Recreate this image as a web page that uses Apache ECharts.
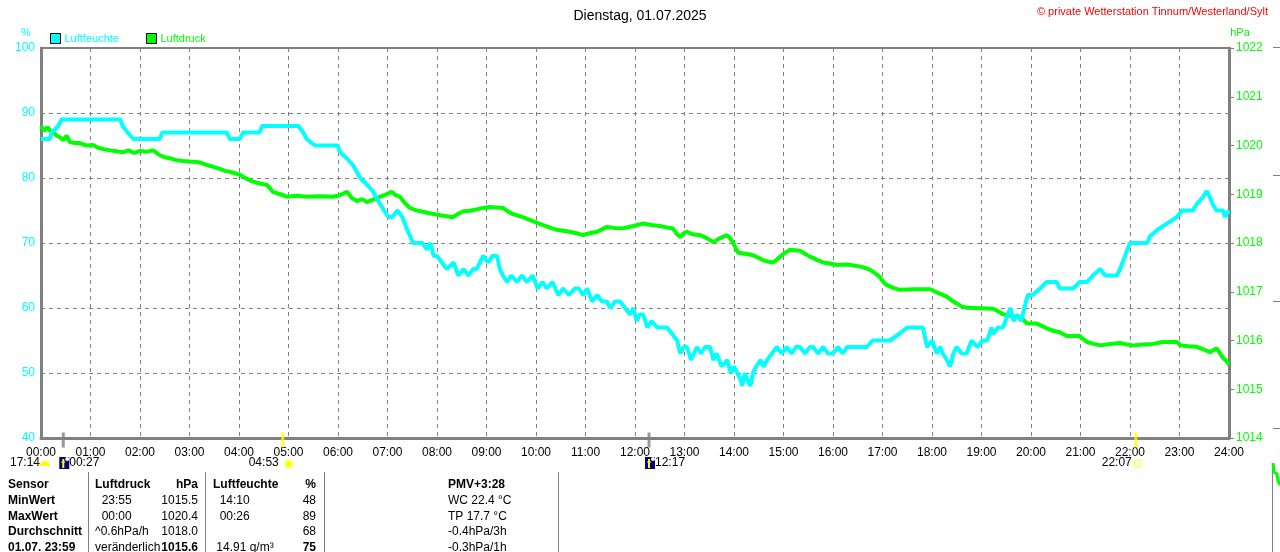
<!DOCTYPE html>
<html>
  <head>
    <meta charset="utf-8" />
    <title>Wetterstation Tinnum</title>
    <script src="https://cdn.jsdelivr.net/npm/echarts@6/dist/echarts.min.js"></script>
    <style>
      html, body { margin: 0; padding: 0; background: #fff; }
      #chart { width: 1280px; height: 552px; }
    </style>
  </head>
  <body>
    <div id="chart"></div>

    <script type="text/javascript">
      // Messwerte [Minute des Tages, Wert]
      var humidity = [
        [0,86],[11,86],[13,87],[21,88],[25,89],[96,89],[99,88],[105,87],[112,86],[144,86],[147,87],[225,87],
        [229,86],[241,86],[245,87],[265,87],[268,88],[312,88],[318,87],[322,86],[332,85],[360,85],[362,84],
        [371,83],[378,82],[387,80],[395,79],[402,78],[411,76],[421,74],[426,74],[432,75],[438,74],[444,72],
        [451,70],[462,70],[468,69],[472,70],[476,68],[480,68],[486,67],[492,66],[500,67],[506,65],[512,66],
        [518,65],[524,66],[528,66],[532,67],[536,68],[542,67],[547,68],[553,68],[556,66],[560,65],[565,64],
        [570,65],[577,64],[583,65],[589,64],[596,65],[602,63],[608,64],[613,63],[620,64],[627,62],[633,63],
        [640,62],[647,63],[652,63],[657,62],[662,63],[668,61],[674,62],[680,61],[686,61],[690,60],[696,61],
        [702,61],[708,60],[714,59],[718,60],[722,58],[726,59],[730,59],[735,57],[740,58],[747,57],[752,57],
        [759,57],[765,56],[771,55],[775,53],[779,54],[783,54],[788,52],[795,54],[800,53],[805,54],[811,54],
        [815,52],[819,53],[825,51],[832,52],[836,50],[840,51],[844,50],[848,49],[850,48],[853,50],[856,49],
        [860,48],[863,50],[867,51],[872,52],[876,51],[880,52],[886,53],[892,54],[898,53],[904,54],[910,53],
        [915,54],[920,54],[926,53],[932,54],[936,54],[942,53],[948,54],[954,53],[960,53],[966,54],[972,53],
        [977,54],[985,54],[992,54],[1001,54],[1008,55],[1017,55],[1029,55],[1040,56],[1050,57],[1069,57],
        [1074,54],[1080,55],[1086,53],[1090,54],[1093,53],[1098,52],[1102,51],[1106,53],[1110,54],[1116,53],
        [1122,53],[1128,55],[1135,54],[1141,55],[1147,55],[1152,57],[1154,56],[1160,57],[1166,57],[1172,59],
        [1175,60],[1179,58],[1183,59],[1188,58],[1190,58],[1196,62],[1202,62],[1211,63],[1219,64],[1231,64],
        [1235,63],[1245,63],[1251,63],[1259,64],[1268,64],[1275,65],[1284,66],[1290,65],[1296,65],[1304,65],
        [1308,66],[1314,68],[1320,70],[1341,70],[1344,71],[1353,72],[1365,73],[1377,74],[1383,75],[1396,75],
        [1401,76],[1408,77],[1413,78],[1417,77],[1420,76],[1425,75],[1433,75],[1435,74],[1440,75]
      ];

      var pressure = [
        [0,1020.4],[4,1020.3],[8,1020.38],[11,1020.3],[15,1020.28],[19,1020.2],[23,1020.17],[27,1020.11],
        [31,1020.2],[35,1020.07],[41,1020.05],[47,1020.05],[55,1020.0],[63,1020.01],[70,1019.95],[77,1019.92],
        [84,1019.9],[92,1019.88],[99,1019.86],[106,1019.9],[113,1019.85],[120,1019.89],[128,1019.87],
        [136,1019.9],[144,1019.8],[150,1019.76],[156,1019.74],[164,1019.7],[172,1019.68],[180,1019.67],
        [189,1019.66],[195,1019.64],[201,1019.6],[209,1019.56],[217,1019.52],[223,1019.48],[229,1019.46],
        [235,1019.43],[241,1019.4],[249,1019.32],[257,1019.26],[265,1019.22],[274,1019.19],[281,1019.05],
        [290,1019.0],[298,1018.95],[310,1018.97],[322,1018.95],[338,1018.96],[354,1018.95],[362,1018.98],
        [371,1019.05],[377,1018.92],[383,1018.86],[389,1018.9],[395,1018.84],[401,1018.88],[407,1018.92],
        [416,1018.98],[425,1019.05],[430,1018.98],[435,1018.95],[441,1018.82],[447,1018.72],[455,1018.67],
        [463,1018.64],[474,1018.6],[484,1018.57],[492,1018.55],[499,1018.53],[506,1018.6],[512,1018.65],
        [520,1018.66],[528,1018.69],[536,1018.72],[544,1018.74],[552,1018.73],[560,1018.72],[566,1018.65],
        [571,1018.6],[578,1018.56],[584,1018.53],[590,1018.49],[596,1018.45],[602,1018.41],[608,1018.37],
        [616,1018.32],[625,1018.27],[633,1018.25],[641,1018.23],[649,1018.2],[657,1018.16],[665,1018.2],
        [674,1018.23],[680,1018.28],[686,1018.33],[695,1018.31],[705,1018.3],[718,1018.35],[730,1018.4],
        [740,1018.37],[750,1018.35],[758,1018.32],[766,1018.3],[770,1018.2],[775,1018.12],[779,1018.2],
        [783,1018.23],[790,1018.18],[799,1018.16],[807,1018.1],[815,1018.02],[823,1018.1],[832,1018.16],
        [836,1018.08],[839,1018.0],[842,1017.9],[845,1017.8],[854,1017.78],[863,1017.75],[869,1017.7],
        [875,1017.65],[881,1017.62],[887,1017.6],[892,1017.66],[896,1017.72],[902,1017.8],[908,1017.86],
        [914,1017.85],[920,1017.84],[926,1017.78],[932,1017.72],[940,1017.66],[948,1017.6],[956,1017.58],
        [965,1017.55],[977,1017.56],[989,1017.53],[997,1017.5],[1005,1017.45],[1011,1017.38],[1017,1017.3],
        [1021,1017.2],[1025,1017.14],[1033,1017.08],[1041,1017.04],[1060,1017.05],[1078,1017.05],
        [1088,1016.97],[1098,1016.9],[1104,1016.82],[1110,1016.76],[1116,1016.7],[1122,1016.67],
        [1138,1016.66],[1154,1016.65],[1160,1016.6],[1166,1016.54],[1176,1016.5],[1187,1016.48],
        [1191,1016.42],[1195,1016.35],[1207,1016.35],[1213,1016.3],[1219,1016.25],[1227,1016.2],
        [1235,1016.17],[1240,1016.12],[1244,1016.09],[1259,1016.09],[1264,1016.02],[1268,1015.97],
        [1276,1015.93],[1284,1015.9],[1296,1015.93],[1308,1015.95],[1316,1015.92],[1324,1015.9],
        [1336,1015.92],[1348,1015.93],[1360,1015.97],[1377,1015.97],[1381,1015.9],[1391,1015.88],
        [1401,1015.87],[1409,1015.82],[1417,1015.76],[1421,1015.8],[1425,1015.84],[1429,1015.74],
        [1433,1015.64],[1437,1015.58],[1440,1015.5]
      ];

      // Mond-/Sonnenereignisse (Minute, Text, Farbe der Marke)
      var eventTimes = [27, 293, 737, 1327];
      var eventLabels = ["00:27", "04:53", "12:17", "22:07"];
      var eventColors = ["#808080", "#ffff00", "#808080", "#ffff00"];

      // Tabelle unten
      var tableHead = ["Sensor", "Luftdruck", "hPa", "Luftfeuchte", "%", "PMV+3:28"];
      var rowLabels = ["MinWert", "MaxWert", "Durchschnitt", "01.07. 23:59"];
      var pressTimes = ["  23:55", "  00:00", "^0.6hPa/h", "veränderlich"];
      var pressValues = ["1015.5", "1020.4", "1018.0", "1015.6"];
      var humTimes = ["  14:10", "  00:26", "", " 14.91 g/m³"];
      var humValues = ["48", "89", "68", "75"];
      var extraValues = ["WC 22.4 °C", "TP 17.7 °C", "-0.4hPa/3h", "-0.3hPa/1h"];

      var FONT = "'Liberation Sans', Arial, sans-serif";
      var GRAY = "#808080";
      var CYAN = "#00ffff";
      var GREEN = "#00ff00";

      var chart = echarts.init(document.getElementById("chart"));

      function pad(n) {
        return (n < 10 ? "0" : "") + n;
      }

      function txt(x, y, s, opt) {
        opt = opt || {};
        return {
          type: "text",
          x: x,
          y: y,
          silent: true,
          style: {
            text: s,
            fill: opt.color || "#000",
            font: (opt.bold ? "bold " : "") + (opt.size || 12) + "px " + FONT,
            textAlign: opt.align || "left",
            textVerticalAlign: "middle",
          },
        };
      }

      function line(x1, y1, x2, y2, color, w) {
        return {
          type: "line",
          silent: true,
          shape: { x1: x1, y1: y1, x2: x2, y2: y2 },
          style: { stroke: color || GRAY, lineWidth: w || 1 },
        };
      }

      var option = {
        animation: false,
        backgroundColor: "#fff",
        title: {
          text: "Dienstag, 01.07.2025",
          left: "center",
          top: 4,
          textStyle: { fontFamily: FONT, fontSize: 14, fontWeight: "normal", color: "#000" },
        },
        legend: {
          left: 50,
          top: 33,
          padding: 0,
          itemWidth: 10,
          itemHeight: 10,
          itemGap: 27,
          icon: "rect",
          textStyle: { fontFamily: FONT, fontSize: 11, padding: [0, 0, 0, -1] },
          data: [
            { name: "Luftfeuchte", itemStyle: { color: CYAN, borderColor: "#000", borderWidth: 1 }, textStyle: { color: CYAN } },
            { name: "Luftdruck", itemStyle: { color: GREEN, borderColor: "#000", borderWidth: 1 }, textStyle: { color: GREEN } },
          ],
        },
        grid: {
          left: 41,
          right: 51,
          top: 48,
          bottom: 114,
          show: true,
          borderColor: GRAY,
          borderWidth: 2,
        },
        xAxis: {
          type: "value",
          min: 0,
          max: 1440,
          interval: 60,
          axisLine: { lineStyle: { color: GRAY, width: 3 } },
          axisTick: { show: false },
          axisLabel: {
            color: "#000",
            fontFamily: FONT,
            fontSize: 12,
            margin: 9,
            formatter: function (v) {
              return pad(v / 60) + ":00";
            },
          },
          splitLine: { lineStyle: { color: GRAY, type: [4, 4], width: 1 } },
        },
        yAxis: [
          {
            type: "value",
            min: 40,
            max: 100,
            interval: 10,
            position: "left",
            axisLine: { show: true, lineStyle: { color: GRAY, width: 3 } },
            axisTick: { show: false },
            axisLabel: { color: CYAN, fontFamily: FONT, fontSize: 12, margin: 6 },
            splitLine: { lineStyle: { color: GRAY, type: [4, 4], width: 1 } },
          },
          {
            type: "value",
            min: 1014,
            max: 1022,
            interval: 1,
            position: "right",
            axisLine: { show: true, lineStyle: { color: GRAY, width: 3 } },
            axisTick: { show: true, length: 5, lineStyle: { color: GRAY, width: 1 } },
            axisLabel: {
              color: GREEN,
              fontFamily: FONT,
              fontSize: 12,
              margin: 7,
              formatter: function (v) {
                return String(v);
              },
            },
            splitLine: { show: false },
          },
        ],
        series: [
          {
            name: "Luftdruck",
            type: "line",
            yAxisIndex: 1,
            data: pressure,
            symbol: "none",
            color: GREEN,
            lineStyle: { color: GREEN, width: 4 },
            z: 3,
          },
          {
            name: "Luftfeuchte",
            type: "line",
            yAxisIndex: 0,
            data: humidity,
            symbol: "none",
            color: CYAN,
            lineStyle: { color: CYAN, width: 4 },
            z: 4,
          },
          {
            name: "Ereignisse",
            type: "scatter",
            yAxisIndex: 0,
            symbol: "rect",
            symbolSize: [3, 15],
            symbolOffset: [0, 2],
            clip: false,
            silent: true,
            z: 6,
            data: eventTimes.map(function (t, i) {
              return { value: [t, 40], itemStyle: { color: eventColors[i] } };
            }),
          },
        ],
      };

      chart.setOption(option);

      // Texte und Tabelle
      var g = [];
      g.push(txt(1268, 12, "© private Wetterstation Tinnum/Westerland/Sylt", { color: "#ff0000", size: 11, align: "right" }));
      g.push(txt(26, 33, "%", { color: CYAN, size: 11, align: "center" }));
      g.push(txt(1240, 33, "hPa", { color: GREEN, size: 11, align: "center" }));

      // Ereignisse unter der Zeitachse
      var ey = 463;
      g.push(txt(10, ey, "17:14", {}));
      g.push({ type: "sector", silent: true, shape: { cx: 45, cy: ey + 3, r: 5, startAngle: Math.PI, endAngle: 2 * Math.PI }, style: { fill: "#ffff00" } });
      eventTimes.forEach(function (t, i) {
        var px = chart.convertToPixel({ xAxisIndex: 0 }, t);
        if (i === 0 || i === 2) {
          // Mond-Symbol
          g.push({ type: "rect", silent: true, shape: { x: px - 4, y: ey - 6, width: 10, height: 12 }, style: { fill: "#000080" } });
          g.push(line(px, ey - 4, px, ey + 5, "#ffff00", 2));
          g.push(line(px - 2, ey - 1, px + 2, ey - 1, "#ffff00", 1));
          g.push({ type: "circle", silent: true, shape: { cx: px + 4, cy: ey - 4, r: 2 }, style: { fill: "#fff" } });
          g.push(txt(px + 6, ey, eventLabels[i], {}));
        } else if (i === 1) {
          g.push({ type: "circle", silent: true, shape: { cx: px + 6, cy: ey + 1, r: 4 }, style: { fill: "#ffff00", stroke: "#ffff99", lineWidth: 2 } });
          g.push(txt(px - 4, ey, eventLabels[i], { align: "right" }));
        } else {
          g.push({ type: "rect", silent: true, shape: { x: px - 1.5, y: ey - 3, width: 6, height: 7 }, style: { fill: "none", stroke: "#ffff00", lineWidth: 1 } });
          g.push(txt(px - 4, ey, eventLabels[i], { align: "right" }));
        }
      });

      // Tabelle
      var rowY = [485, 501, 517, 532, 548];
      [88, 205, 324, 558].forEach(function (x) {
        g.push(line(x + 0.5, 472, x + 0.5, 552, GRAY, 1));
      });
      g.push(txt(8, rowY[0], tableHead[0], { bold: true }));
      g.push(txt(95, rowY[0], tableHead[1], { bold: true }));
      g.push(txt(198, rowY[0], tableHead[2], { bold: true, align: "right" }));
      g.push(txt(213, rowY[0], tableHead[3], { bold: true }));
      g.push(txt(316, rowY[0], tableHead[4], { bold: true, align: "right" }));
      g.push(txt(448, rowY[0], tableHead[5], { bold: true }));
      rowLabels.forEach(function (lab, i) {
        var y = rowY[i + 1];
        var last = i === rowLabels.length - 1;
        g.push(txt(8, y, lab, { bold: true }));
        g.push(txt(95, y, pressTimes[i], {}));
        g.push(txt(198, y, pressValues[i], { bold: last, align: "right" }));
        g.push(txt(213, y, humTimes[i], {}));
        g.push(txt(316, y, humValues[i], { bold: last, align: "right" }));
        g.push(txt(448, y, extraValues[i], {}));
      });

      // Rand des Nachbardiagramms rechts
      [47, 175, 301, 428].forEach(function (y) {
        g.push(line(1273, y + 0.5, 1280, y + 0.5, GRAY, 1));
      });
      g.push(line(1272.5, 463, 1272.5, 552, GRAY, 1));
      g.push({
        type: "polyline",
        silent: true,
        shape: { points: [[1273, 463], [1274, 472], [1277, 474], [1278, 481], [1280, 485]] },
        style: { stroke: GREEN, lineWidth: 3, fill: "none" },
      });

      chart.setOption({ graphic: { elements: g } });
    </script>
  </body>
</html>
